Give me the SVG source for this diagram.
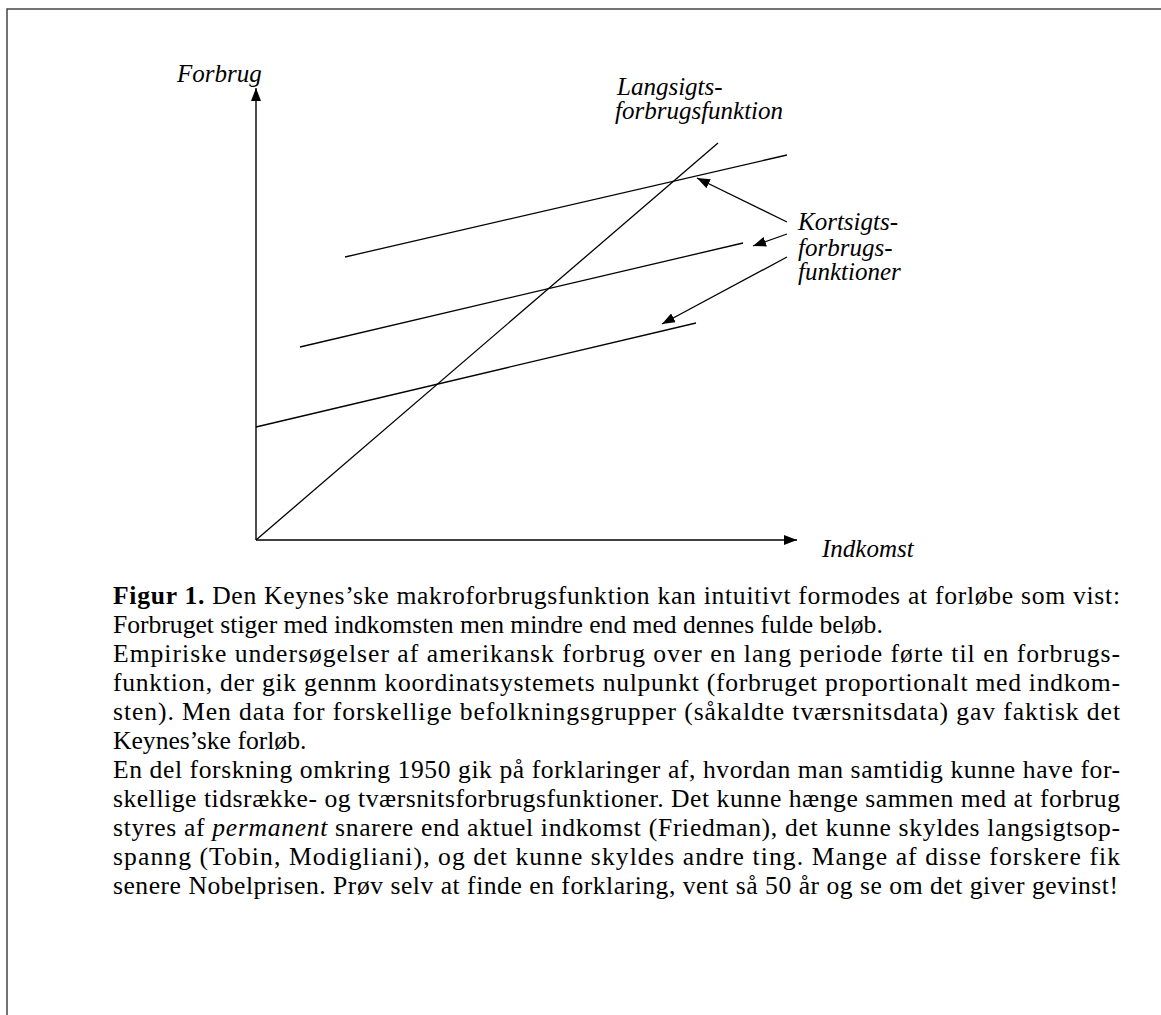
<svg xmlns="http://www.w3.org/2000/svg" width="1161" height="1015" viewBox="0 0 1161 1015">
<style>
.ln{stroke:#000;stroke-width:1.3;fill:none}
.ax{stroke:#000;stroke-width:1.4;fill:none}
.lab{font-family:"Liberation Serif","Times New Roman",serif;font-style:italic;font-size:25px;fill:#000}
.cap{font-family:"Liberation Serif","Times New Roman",serif;font-size:25.6px;fill:#000}
.b{font-weight:bold}
.i{font-style:italic}
</style>
<defs>
<marker id="ah" markerUnits="userSpaceOnUse" markerWidth="14" markerHeight="10" refX="13" refY="5" orient="auto">
<path d="M0,0 L13,5 L0,10 z" fill="#000"/>
</marker>
</defs>
<rect width="1161" height="1015" fill="#fff"/>
<path d="M7,1015 V9 H1161" stroke="#444" stroke-width="1.5" fill="none"/>
<g id="axes">
<line class="ax" x1="256" y1="540" x2="256" y2="88" marker-end="url(#ah)"/>
<line class="ax" x1="256" y1="540" x2="797" y2="540" marker-end="url(#ah)"/>
</g>
<g id="langsigt">
<line class="ln" x1="256" y1="540" x2="718" y2="143"/>
</g>
<g id="kortsigt1">
<line class="ln" x1="345" y1="257" x2="787" y2="155"/>
</g>
<g id="kortsigt2">
<line class="ln" x1="300" y1="347" x2="743" y2="243"/>
</g>
<g id="kortsigt3">
<line class="ln" x1="256" y1="427" x2="696" y2="323"/>
</g>
<g id="connectors">
<line class="ln" x1="787" y1="222" x2="697" y2="178" marker-end="url(#ah)"/>
<line class="ln" x1="787" y1="234" x2="753" y2="246" marker-end="url(#ah)"/>
<line class="ln" x1="787" y1="257" x2="662" y2="324" marker-end="url(#ah)"/>
</g>
<g id="label-forbrug"><text class="lab" x="177" y="82">Forbrug</text></g>
<g id="label-indkomst"><text class="lab" x="822" y="557">Indkomst</text></g>
<g id="label-langsigt">
<text class="lab" x="617" y="95">Langsigts-</text>
<text class="lab" x="615" y="119">forbrugsfunktion</text>
</g>
<g id="label-kortsigt">
<text class="lab" x="798" y="230">Kortsigts-</text>
<text class="lab" x="798" y="256">forbrugs-</text>
<text class="lab" x="798" y="280">funktioner</text>
</g>
<g id="caption">
<text class="cap" x="113" y="604" textLength="1007" lengthAdjust="spacing"><tspan class="b">Figur 1.</tspan> Den Keynes’ske makroforbrugsfunktion kan intuitivt formodes at forløbe som vist:</text>
<text class="cap" x="113" y="633">Forbruget stiger med indkomsten men mindre end med dennes fulde beløb.</text>
<text class="cap" x="113" y="662" textLength="1007" lengthAdjust="spacing">Empiriske undersøgelser af amerikansk forbrug over en lang periode førte til en forbrugs-</text>
<text class="cap" x="113" y="691" textLength="1007" lengthAdjust="spacing">funktion, der gik gennm koordinatsystemets nulpunkt (forbruget proportionalt med indkom-</text>
<text class="cap" x="113" y="720" textLength="1007" lengthAdjust="spacing">sten). Men data for forskellige befolkningsgrupper (såkaldte tværsnitsdata) gav faktisk det</text>
<text class="cap" x="113" y="749">Keynes’ske forløb.</text>
<text class="cap" x="113" y="778" textLength="1007" lengthAdjust="spacing">En del forskning omkring 1950 gik på forklaringer af, hvordan man samtidig kunne have for-</text>
<text class="cap" x="113" y="807" textLength="1007" lengthAdjust="spacing">skellige tidsrække- og tværsnitsforbrugsfunktioner. Det kunne hænge sammen med at forbrug</text>
<text class="cap" x="113" y="836" textLength="1007" lengthAdjust="spacing">styres af <tspan class="i">permanent</tspan> snarere end aktuel indkomst (Friedman), det kunne skyldes langsigtsop-</text>
<text class="cap" x="113" y="865" textLength="1007" lengthAdjust="spacing">spanng (Tobin, Modigliani), og det kunne skyldes andre ting. Mange af disse forskere fik</text>
<text class="cap" x="113" y="894" textLength="1005" lengthAdjust="spacing">senere Nobelprisen. Prøv selv at finde en forklaring, vent så 50 år og se om det giver gevinst!</text>
</g>
</svg>
